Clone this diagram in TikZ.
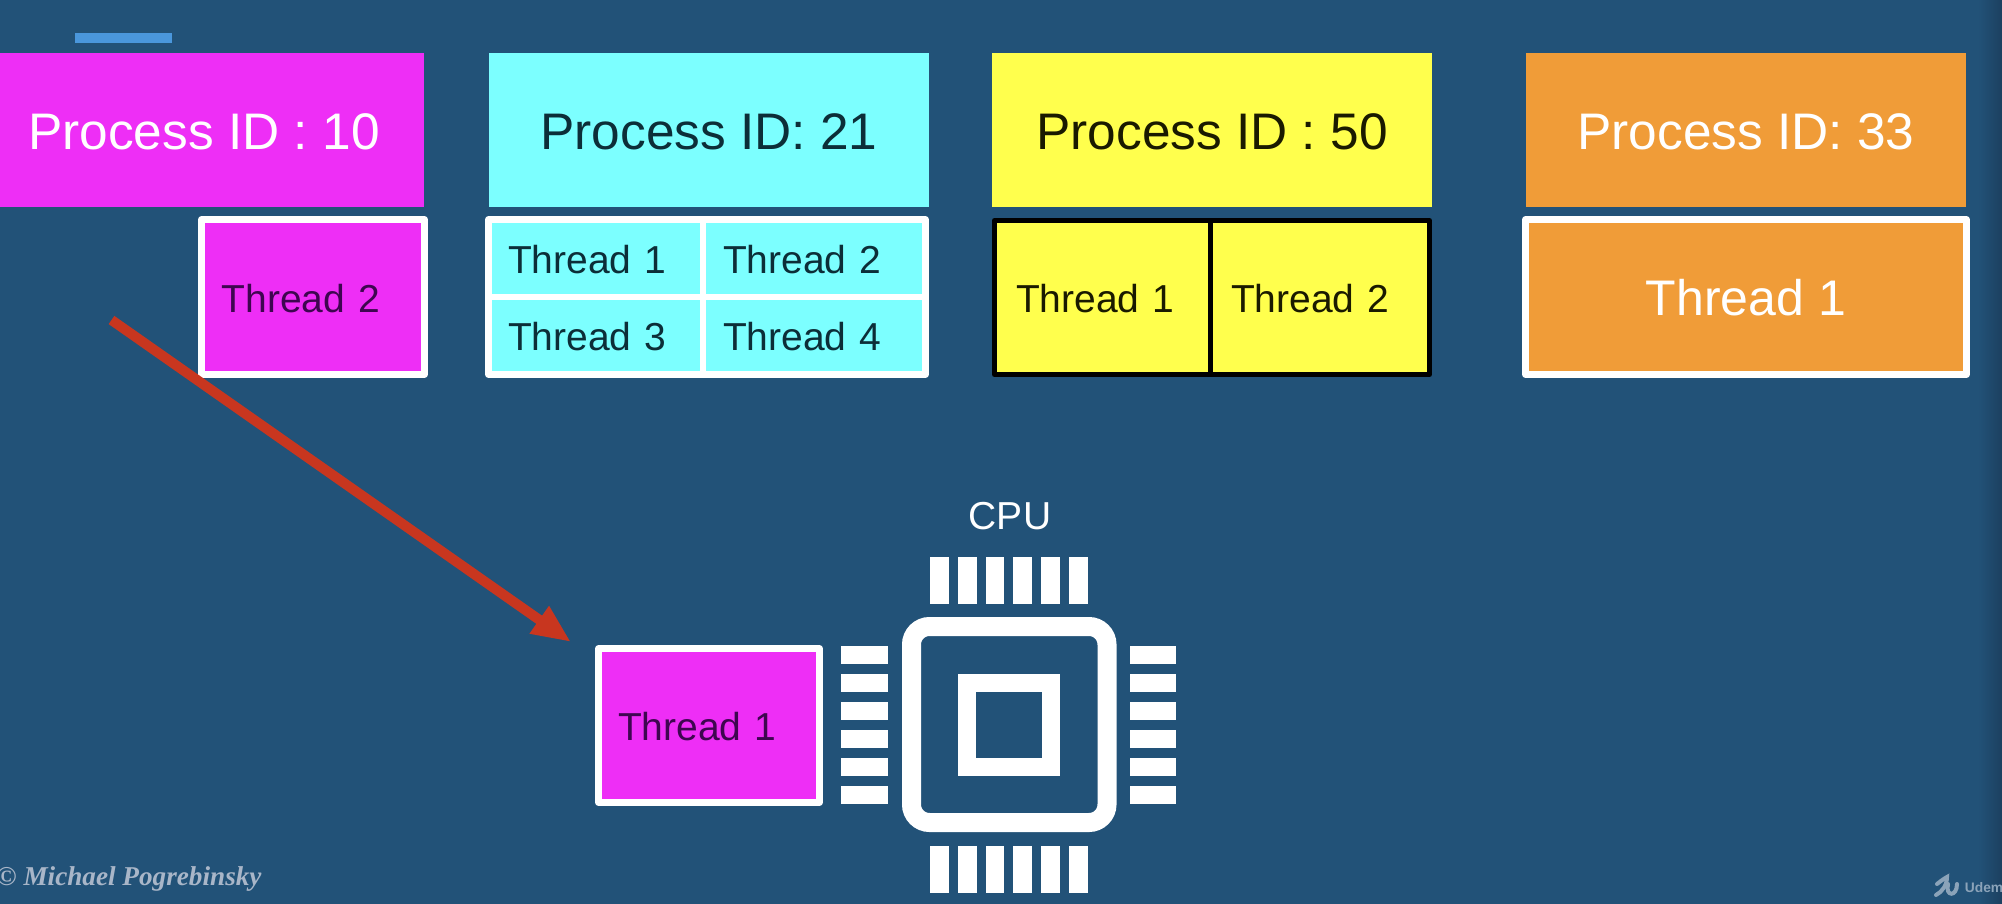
\documentclass[tikz,border=0pt]{standalone}
\usepackage{fontspec}
\setmainfont{Liberation Sans}
\newfontfamily\signfont{Liberation Serif}
\usetikzlibrary{arrows.meta}
\definecolor{bgblue}{HTML}{225278}
\definecolor{bgdark}{HTML}{1C4060}
\definecolor{barblue}{HTML}{4A97DC}
\definecolor{magentaF}{HTML}{EE2EF6}
\definecolor{cyanF}{HTML}{7CFFFF}
\definecolor{yellowF}{HTML}{FFFF4D}
\definecolor{orangeF}{HTML}{F09C38}
\definecolor{arrowred}{HTML}{C8361F}
\definecolor{inkmag}{HTML}{3E0650}
\definecolor{inkcyan}{HTML}{0C2E38}
\definecolor{inkyel}{HTML}{1A1A00}
\definecolor{signgrey}{HTML}{A9B6C8}
\definecolor{udemygrey}{HTML}{8BA3B9}
\newcommand{\bigtext}{\fontsize{25.7}{30}\selectfont}
\newcommand{\midtext}{\fontsize{25}{30}\selectfont}
\newcommand{\smalltext}{\fontsize{19.5}{23}\selectfont}
\tikzset{
  procbox/.style={rectangle,inner sep=0pt,minimum width=220pt,minimum height=76.5pt,font=\bigtext,
    text height=19pt,text depth=0pt},
  threadcell/.style n args={3}{rectangle,draw,line width=3.3pt,line join=round,inner ysep=0pt,
    inner xsep=#3*0.5pt,text width=(#1-2*#3)*0.5pt,align=left,font=\smalltext,
    text height=15.2pt,text depth=0pt},
  pin/.style={rectangle,fill=white,draw=none,inner sep=0pt},
}
\begin{document}
\begin{tikzpicture}[x=0.5pt,y=-0.5pt]
\useasboundingbox (0,0) rectangle (2002,904);
\fill[bgblue] (0,0) rectangle (2002,904);
\shade[left color=bgblue,right color=bgdark,draw=none] (1978,0) rectangle (2002,904);
\fill[barblue] (75,33) rectangle (172,43);

% process headers
\node[procbox,fill=magentaF,text=white] (p10) at (204,130) {Process ID : 10};
\node[procbox,fill=cyanF,text=inkcyan] (p21) at (709,130) {Process ID: 21};
\node[procbox,fill=yellowF,text=inkyel] (p50) at (1212,130) {Process ID : 50};
\node[procbox,fill=orangeF,text=white] (p33) at (1746,130) {Process ID: 33};

% threads
\node[threadcell={223}{155}{20},draw=white,fill=magentaF,text=inkmag,minimum height=77.5pt] (m2) at (313,297) {Thread 2};

\node[threadcell={214.5}{77.5}{19.5},draw=white,fill=cyanF,text=inkcyan,minimum height=38.75pt] (c1) at (595.75,258.25) {Thread 1};
\node[threadcell={222.5}{77.5}{20},draw=white,fill=cyanF,text=inkcyan,minimum height=38.75pt] (c2) at (814.25,258.25) {Thread 2};
\node[threadcell={214.5}{77.5}{19.5},draw=white,fill=cyanF,text=inkcyan,minimum height=38.75pt] (c3) at (595.75,335.75) {Thread 3};
\node[threadcell={222.5}{77.5}{20},draw=white,fill=cyanF,text=inkcyan,minimum height=38.75pt] (c4) at (814.25,335.75) {Thread 4};

\node[threadcell={215.5}{154}{21.5},draw=black,line width=2.5pt,fill=yellowF,text=inkyel,minimum height=77pt] (y1) at (1102.25,297.5) {Thread 1};
\node[threadcell={219.5}{154}{21},draw=black,line width=2.5pt,fill=yellowF,text=inkyel,minimum height=77pt] (y2) at (1319.75,297.5) {Thread 2};

\node[rectangle,draw=white,line width=3.3pt,line join=round,fill=orangeF,text=white,inner sep=0pt,
  minimum width=220.5pt,minimum height=77.5pt,font=\midtext,text height=18.4pt,text depth=0pt] (o1) at (1746,297) {Thread 1};

\node[threadcell={221}{154}{19.5},draw=white,fill=magentaF,text=inkmag,minimum height=77pt] (m1) at (709,725.5) {Thread 1};

% CPU
\node[text=white,font=\smalltext,inner sep=0pt] (cpulabel) at (1010,516) {CPU};
\node[rectangle,draw=white,line width=9.5pt,rounded corners=9pt,inner sep=0pt,
  minimum width=97.75pt,minimum height=98pt] (chip) at (1009.25,724.5) {};
\node[rectangle,draw=white,line width=9pt,inner sep=0pt,
  minimum width=42pt,minimum height=42pt] (core) at (1009,724.5) {};
\foreach \i in {0,...,5}{
  \node[pin,minimum width=23.5pt,minimum height=9pt] (pl\i) at (864.5,655+28*\i) {};
  \node[pin,minimum width=23pt,minimum height=9pt] (pr\i) at (1153,655+28*\i) {};
  \node[pin,minimum width=9.4pt,minimum height=23.5pt] (pt\i) at (939.3+27.85*\i,580.5) {};
  \node[pin,minimum width=9.4pt,minimum height=23.5pt] (pb\i) at (939.3+27.85*\i,869.5) {};
}

% arrow
\coordinate (astart) at (111.5,320);
\coordinate (atip) at (571,642);
\draw[arrowred,line width=5pt,-{Triangle[length=19.4pt,width=15.5pt]}] (astart) -- (atip);

% signature and logo
\node[anchor=base west,inner sep=0pt,text=signgrey,font=\signfont\itshape\bfseries\fontsize{13.6}{16}\selectfont] (sign) at (-4,885) {© Michael Pogrebinsky};
\draw[udemygrey,line width=2pt,line cap=round] (1937,884) .. controls (1942,880) and (1945,878) .. (1947,877) .. controls (1947,885) and (1942,892) .. (1936,895);
\draw[udemygrey,line width=2pt,line cap=round] (1948,884) .. controls (1945,897) and (1957,897) .. (1957,884);
\node[anchor=base west,inner sep=0pt,text=udemygrey,font=\bfseries\fontsize{6.9}{9}\selectfont] (udemy) at (1964.5,892) {Udem};
\end{tikzpicture}
\end{document}
